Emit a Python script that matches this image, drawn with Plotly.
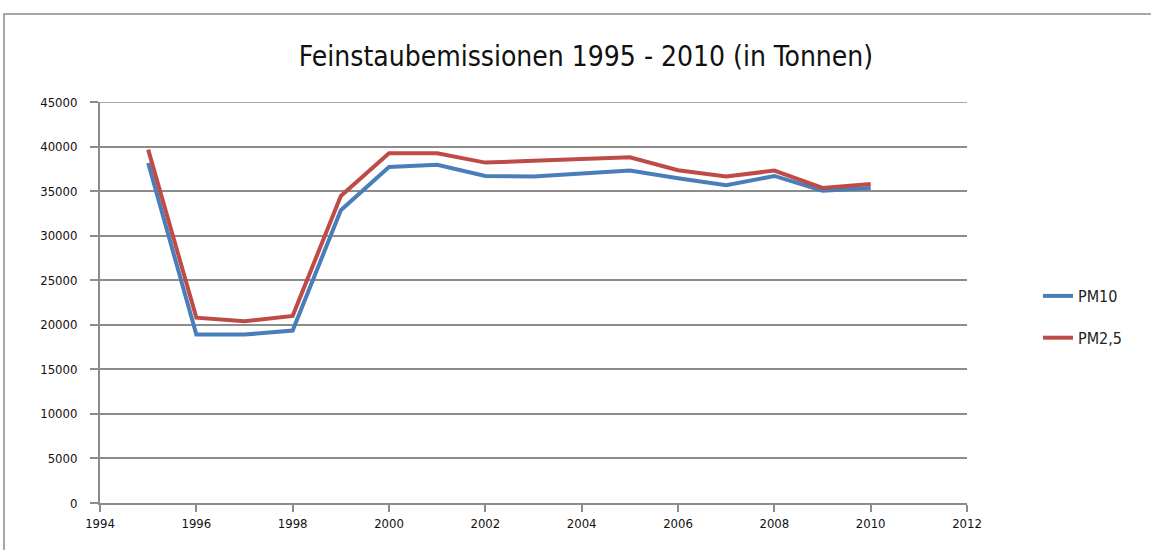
import plotly.graph_objects as go

years = [1995, 1996, 1997, 1998, 1999, 2000, 2001, 2002, 2003, 2004, 2005, 2006, 2007, 2008, 2009, 2010]
pm10 = [38150, 18900, 18900, 19350, 32850, 37700, 37950, 36700, 36650, 37000, 37300, 36450, 35650, 36700, 35050, 35350]
pm25 = [39650, 20800, 20400, 21000, 34450, 39250, 39250, 38200, 38400, 38600, 38800, 37350, 36650, 37300, 35350, 35800]
series_names = ["PM10", "PM2,5"]
x_ticks = [1994, 1996, 1998, 2000, 2002, 2004, 2006, 2008, 2010, 2012]
y_ticks = [0, 5000, 10000, 15000, 20000, 25000, 30000, 35000, 40000, 45000]

W, H = 1151, 550
L, R, T, B = 100, 967, 102, 503

fig = go.Figure()
fig.add_trace(go.Scatter(x=years, y=pm10, mode="lines", name=series_names[0], legendgroup="a",
                         line=dict(color="#4A7EBB", width=4)))
fig.add_trace(go.Scatter(x=years, y=pm25, mode="lines", name=series_names[1], legendgroup="b",
                         line=dict(color="#BE4B48", width=4)))

def px_x(p):
    return (p - L) / (R - L)

def px_y(p):
    return (B - p) / (B - T)

# outer chart frame (top and left edges visible)
fig.add_shape(type="rect", xref="paper", yref="paper",
              x0=px_x(4), x1=px_x(1165), y0=px_y(570), y1=px_y(14),
              line=dict(color="#8C8C8C", width=1.5), layer="below")
# top gridline at 45000
fig.add_shape(type="line", xref="paper", yref="y", x0=0, x1=1, y0=y_ticks[-1], y1=y_ticks[-1],
              line=dict(color="#8C8C8C", width=1.5), layer="below")

tick_font = dict(family="DejaVu Sans Condensed", size=13, color="#111111")

fig.update_layout(
    width=W, height=H,
    margin=dict(l=L, r=W - R, t=T, b=H - B),
    paper_bgcolor="white", plot_bgcolor="white",
    title=dict(text="Feinstaubemissionen 1995 - 2010 (in Tonnen)",
               xref="container", x=586 / W, xanchor="center",
               yref="container", y=1 - 56 / H, yanchor="middle",
               font=dict(family="DejaVu Sans Condensed", size=28, color="#111111")),
    legend=dict(x=px_x(1038), y=px_y(279), xanchor="left", yanchor="top",
                font=dict(family="DejaVu Sans Condensed", size=16, color="#222222"),
                tracegroupgap=18, bgcolor="rgba(0,0,0,0)"),
    xaxis=dict(range=[1994, 2012], tickvals=x_ticks, ticktext=[str(v) for v in x_ticks],
               showgrid=False, zeroline=False, showline=True, linecolor="#8C8C8C", linewidth=2,
               ticks="outside", ticklen=7, tickcolor="#8C8C8C", tickwidth=1.5,
               tickfont=tick_font),
    yaxis=dict(range=[0, 45000], tickvals=y_ticks, ticktext=[str(v) for v in y_ticks],
               showgrid=True, gridcolor="#8C8C8C", gridwidth=1.5, zeroline=False,
               showline=True, linecolor="#8C8C8C", linewidth=2,
               ticks="outside", ticklen=8, tickcolor="#8C8C8C", tickwidth=1.5,
               ticklabelstandoff=10,
               tickfont=tick_font),
)

fig.write_html("out.html", config={"displayModeBar": False},
               post_script="document.body.style.margin='0';")
